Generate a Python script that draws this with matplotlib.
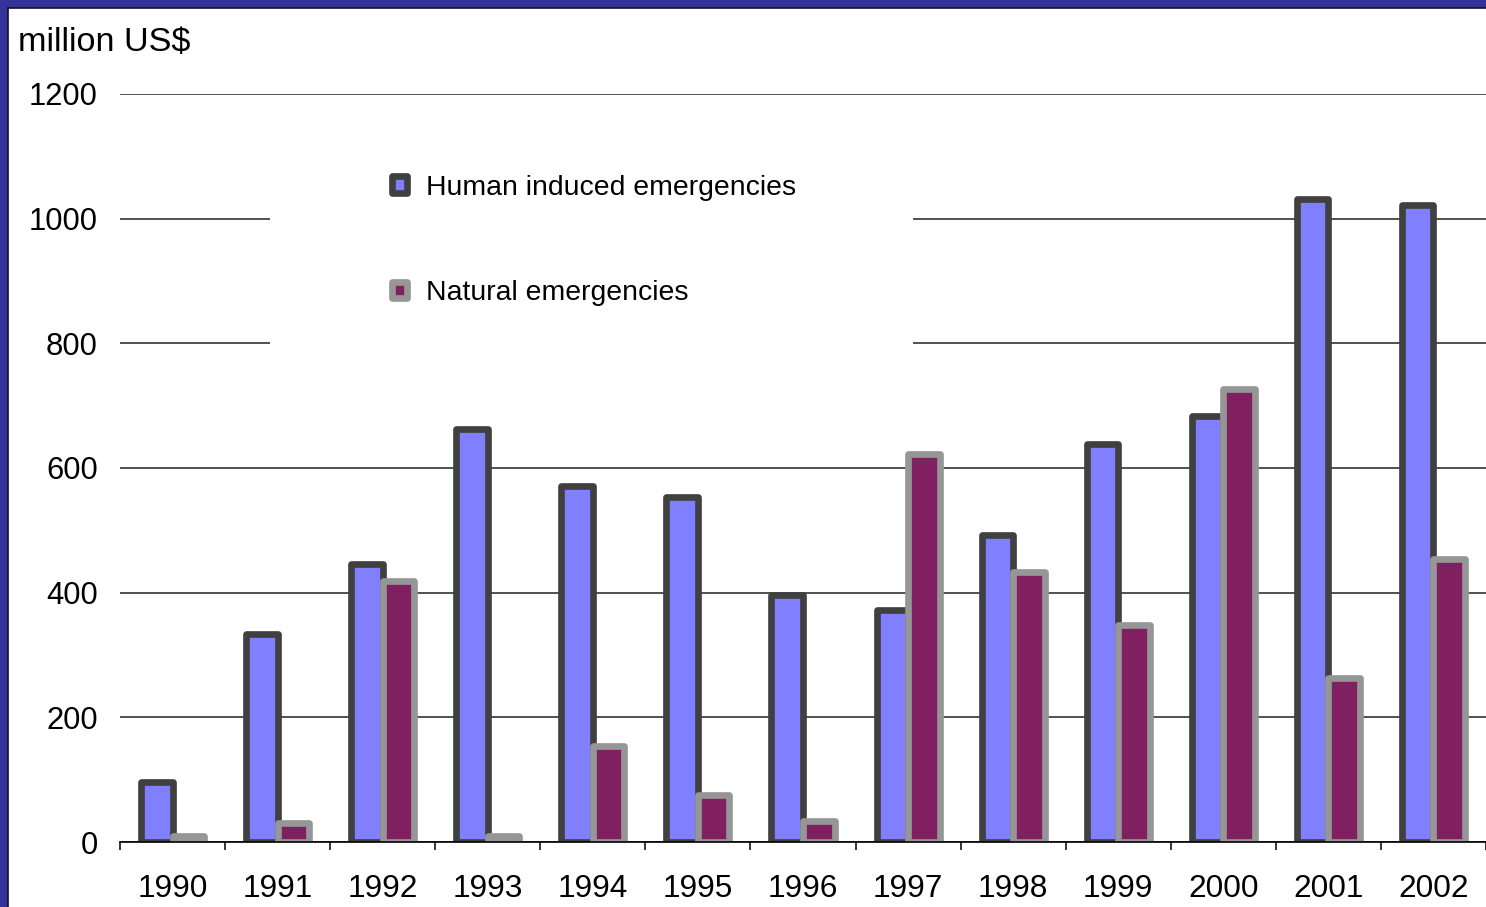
import numpy as np
import matplotlib
matplotlib.use('Agg')
import matplotlib.pyplot as plt
from matplotlib.patches import Rectangle

plt.rcParams['font.family'] = ['Liberation Sans', 'DejaVu Sans']

years = ['1990', '1991', '1992', '1993', '1994', '1995', '1996',
         '1997', '1998', '1999', '2000', '2001', '2002']
human = [97, 334, 446, 663, 571, 553, 397, 372, 492, 638, 683, 1032, 1022]
natural = [10, 30, 419, 10, 154, 76, 34, 623, 433, 348, 727, 263, 454]
series_names = ['Human induced emergencies', 'Natural emergencies']

W, H = 1486, 907
fig = plt.figure(figsize=(W / 100, H / 100), dpi=100)
fig.patch.set_facecolor('white')

# blue slide frame on top / left
fig.patches.append(Rectangle((0, 1 - 8 / H), 1, 8 / H, transform=fig.transFigure,
                             facecolor='#333399', edgecolor='none', zorder=0))
fig.patches.append(Rectangle((0, 0), 8 / W, 1, transform=fig.transFigure,
                             facecolor='#333399', edgecolor='none', zorder=0))
fig.lines.append(plt.Line2D([8 / W, 1], [1 - 8 / H, 1 - 8 / H], transform=fig.transFigure,
                            color='#111133', lw=1.2))
fig.lines.append(plt.Line2D([8 / W, 8 / W], [0, 1 - 8 / H], transform=fig.transFigure,
                            color='#111133', lw=1.2))

ax = fig.add_axes([120 / W, 65 / H, 1 - 120 / W, 748 / H])
x = np.arange(len(years))
w = 0.3

ax.bar(x - w / 2, human, w, color='#8080FF', edgecolor='#404040', linewidth=4.8,
       joinstyle='round', label=series_names[0], zorder=3)
ax.bar(x + w / 2, natural, w, color='#802060', edgecolor='#969696', linewidth=4.8,
       joinstyle='round', label=series_names[1], zorder=4)

ax.set_xlim(-0.5, len(years) - 0.5)
ax.set_ylim(0, 1200)
ax.set_yticks(np.arange(0, 1201, 200))
ax.grid(axis='y', color='#222222', linewidth=1.1, zorder=1)
ax.set_axisbelow(True)

for s in ['top', 'right', 'left']:
    ax.spines[s].set_visible(False)
ax.spines['bottom'].set_color('black')
ax.spines['bottom'].set_linewidth(1.2)
ax.spines['bottom'].set_zorder(5)

ax.set_xticks(x)
ax.set_xticklabels(years)
ax.set_xticks(np.arange(-0.5, len(years), 1), minor=True)
ax.tick_params(axis='x', which='major', length=0, labelsize=22.8, pad=23)
ax.tick_params(axis='x', which='minor', length=6, width=1.1, color='black')
ax.tick_params(axis='y', length=0, labelsize=22.3, pad=16)

# white legend area that hides the gridlines behind it
ax.add_patch(Rectangle((0.11, 0.644), 0.4705, 0.214, transform=ax.transAxes,
                       facecolor='white', edgecolor='none', zorder=2))

leg = ax.legend(loc='upper left', bbox_to_anchor=(0.199, 0.892), frameon=False,
                fontsize=20.4, handlelength=0.53, handleheight=0.53,
                handletextpad=0.66, labelspacing=2.8, borderpad=0, borderaxespad=0)
for h in leg.legend_handles:
    h.set_linewidth(4.8)
    h.set_joinstyle('round')

fig.text(18 / W, 1 - 43 / H, 'million US$', fontsize=24.7, va='center', ha='left')

fig.savefig('out.png', dpi=100)
